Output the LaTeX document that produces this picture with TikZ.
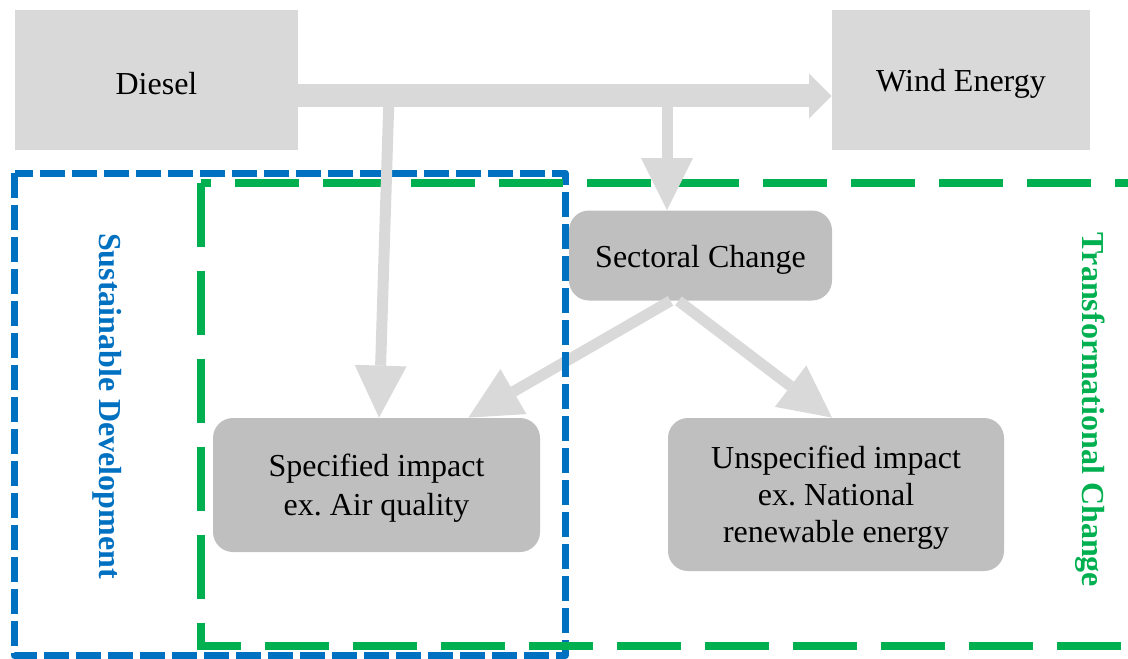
\documentclass[tikz,border=0pt]{standalone}
\usepackage{fontspec}
\setmainfont{Liberation Serif}
\usetikzlibrary{arrows.meta,calc}
\definecolor{boxlight}{HTML}{D9D9D9}
\definecolor{boxdark}{HTML}{BFBFBF}
\definecolor{sdblue}{HTML}{0070C0}
\definecolor{tcgreen}{HTML}{00B050}
\newcommand{\boxfont}{\fontsize{16}{18.5}\selectfont}
\tikzset{
  oneline/.style={text height=15pt},
  manylines/.style={text depth=0pt},
  plainbox/.style={fill=boxlight, inner sep=0pt, align=center},
  impactbox/.style={fill=boxdark, rounded corners=10pt, inner sep=0pt, align=center},
  flow/.style={draw=boxlight, line width=5.5pt,
    -{Triangle[length=26pt,width=26pt,line width=0pt]}},
  mainflow/.style={draw=boxlight, line width=11.5pt,
    -{Triangle[length=11.25pt,width=22.5pt,line width=0pt]}},
  sdframe/.style={draw=sdblue, line width=3.5pt, line join=round,
    dash pattern=on 12.5pt off 3.5pt},
  tcframe/.style={draw=tcgreen, line width=4pt,
    dash pattern=on 32pt off 12pt},
  framelabel/.style={rotate=-90, font=\boxfont\bfseries}
}
\begin{document}
\frenchspacing
\begin{tikzpicture}[x=0.5pt,y=-0.5pt,font=\boxfont]
\useasboundingbox (0,0) rectangle (1128,658);
\clip (0,0) rectangle (1128,658);

% boxes
\node[plainbox, oneline, minimum width=141.5pt, minimum height=70pt] (diesel) at (156.5,80) {Diesel};
\node[plainbox, oneline, minimum width=129pt, minimum height=70pt] (wind) at (961,80) {Wind Energy};
\node[impactbox, oneline, minimum width=131.5pt, minimum height=45pt] (sec) at (700.5,255.5) {Sectoral Change};
\node[impactbox, manylines, minimum width=163.5pt, minimum height=67pt] (spec) at (376.5,485) {Specified impact\\[1pt]ex. Air quality};
\node[impactbox, manylines, minimum width=168pt, minimum height=76.5pt] (unspec) at (836,494.5) {Unspecified impact\\ex. National\\renewable energy};

% flow from the sectoral change down to the specified impact
\draw[flow] ($(sec.south)+(-30,0)$) -- ($(spec.north east)+(-72,0)$);

% dashed frames
\draw[sdframe] (14.5,173) rectangle (565,655.5);
\draw[tcframe] (200.5,182.5) rectangle (1150,646);
\node[framelabel, text=sdblue] (sdlabel) at (107,406) {Sustainable Development};
\node[framelabel, text=tcgreen] (tclabel) at (1090,410) {Transformational Change};

% main transition arrow and its branches
\draw[mainflow] ([yshift=-8pt]diesel.east) -- ([yshift=-8pt]wind.west);
\coordinate (j1) at (389,96);
\coordinate (j2) at (667,96);
\draw[flow] (j1) -- ($(spec.north)+(2.5,0)$);
\draw[flow] (j2) -- (j2 |- sec.north);
\draw[flow] ($(sec.south)+(-22,0)$) -- ($(unspec.north)+(-4,0)$);
\end{tikzpicture}
\end{document}
